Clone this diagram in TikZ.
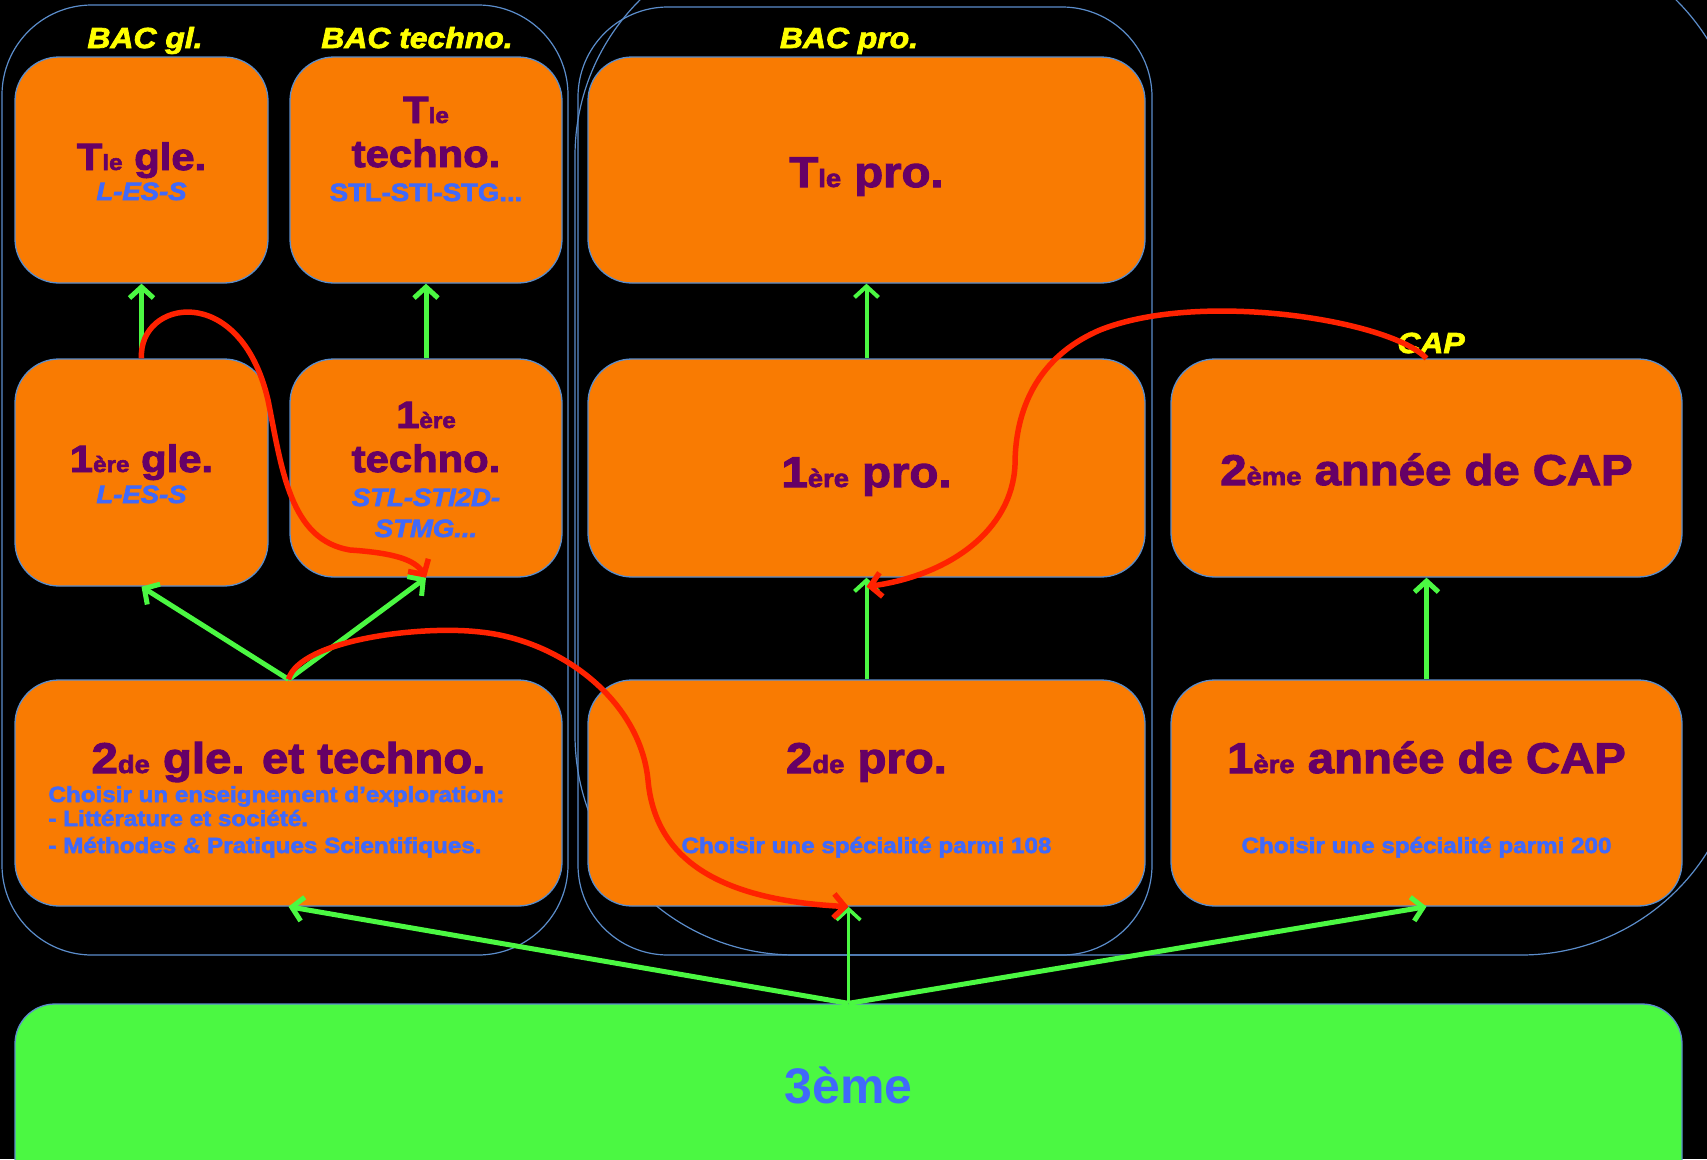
\documentclass[tikz,border=0pt]{standalone}
\usepackage{fontspec}
\setmainfont{Liberation Sans}
\newfontfamily\lourd{Liberation Sans}[FakeStretch=1.1,FakeBold=2.5]
\usepackage{graphicx}
\usepackage{tikz}
\usetikzlibrary{arrows.meta}
\definecolor{orangeb}{HTML}{F97B02}
\definecolor{violetb}{HTML}{660066}
\definecolor{bleub}{HTML}{4069FA}
\definecolor{jauneb}{HTML}{FFFF00}
\definecolor{vertb}{HTML}{4BF842}
\definecolor{rougeb}{HTML}{FF2200}
\definecolor{bordure}{HTML}{5B8DCB}
\tikzstyle{boite} = [draw=bordure,fill=orangeb,line width=1.3pt,rounded corners=44pt,inner sep=0pt]
\tikzstyle{groupe} = [draw=bordure,line width=1.2pt]
\tikzstyle{monte} = [draw=vertb,line width=5pt,->]
\tikzstyle{retour} = [draw=rougeb,line width=5.5pt,->]
\newcommand{\exps}[1]{\scalebox{0.58}{#1}}

\begin{document}
\begin{tikzpicture}[x=1pt,y=-1pt,>={Straight Barb[length=11pt,width=24pt]},
    bac/.style={text=jauneb,anchor=base,font=\lourd\bfseries\itshape\fontsize{29}{30}\selectfont},
    titre/.style={text=violetb,anchor=base,font=\lourd\bfseries\fontsize{38}{40}\selectfont},
    grand/.style={text=violetb,anchor=base,font=\lourd\bfseries\fontsize{43}{45}\selectfont},
    spec/.style={text=bleub,anchor=base,font=\lourd\bfseries\itshape\fontsize{25}{27}\selectfont},
    specd/.style={text=bleub,anchor=base,font=\lourd\bfseries\fontsize{25}{27}\selectfont},
    note/.style={text=bleub,anchor=base,font=\lourd\bfseries\fontsize{22}{24}\selectfont},
    trois/.style={text=bleub,anchor=base,font=\bfseries\fontsize{50}{52}\selectfont}]

    \fill[black] (0,0) rectangle (1707,1159);
    \useasboundingbox (0,0) rectangle (1707,1159);
    \clip (0,0) rectangle (1707,1159);

    \draw[groupe,rounded corners=90pt] (2,5) rectangle (568,955);
    \draw[groupe,rounded corners=220pt] (575,-64) rectangle (1741,955);
    \draw[groupe,rounded corners=90pt] (578,7) rectangle (1152,955);

    \node[boite,minimum width=253pt,minimum height=226pt] (TG) at (141.5,170) {};
    \node[boite,minimum width=272pt,minimum height=226pt] (TT) at (426,170) {};
    \node[boite,minimum width=557pt,minimum height=226pt] (TP) at (866.5,170) {};
    \node[boite,minimum width=253pt,minimum height=227pt] (PG) at (141.5,472.5) {};
    \node[boite,minimum width=272pt,minimum height=218pt] (PT) at (426,468) {};
    \node[boite,minimum width=557pt,minimum height=218pt] (PP) at (866.5,468) {};
    \node[boite,minimum width=511pt,minimum height=218pt] (C2) at (1426.5,468) {};
    \node[boite,minimum width=547pt,minimum height=226pt] (SG) at (288.5,793) {};
    \node[boite,minimum width=557pt,minimum height=226pt] (SP) at (866.5,793) {};
    \node[boite,minimum width=511pt,minimum height=226pt] (C1) at (1426.5,793) {};
    \node[boite,fill=vertb,rounded corners=40pt,minimum width=1667pt,minimum height=200pt] (E3) at (848.5,1104) {};

    \node[bac] (bgl) at (145,48) {BAC gl.};
    \node[bac] (btec) at (417,48) {BAC techno.};
    \node[bac] (bpro) at (849,48) {BAC pro.};
    \node[bac] (bcap) at (1431,353) {CAP};

    \node[titre] (tTG) at (141.5,170) {T\exps{le} gle.};
    \node[spec] (sTG) at (141.5,200) {L-ES-S};
    \node[titre] (tTT1) at (426,123) {T\exps{le}};
    \node[titre] (tTT2) at (426,167) {techno.};
    \node[specd] (sTT) at (426,201) {STL-STI-STG...};
    \node[grand] (tTP) at (866.5,187) {T\exps{le} pro.};

    \node[titre] (tPG) at (141.5,472) {1\exps{ère} gle.};
    \node[spec] (sPG) at (141.5,503) {L-ES-S};
    \node[titre] (tPT1) at (426,428) {1\exps{ère}};
    \node[titre] (tPT2) at (426,472) {techno.};
    \node[spec] (sPT1) at (426,506) {STL-STI2D-};
    \node[spec] (sPT2) at (426,537) {STMG...};
    \node[grand] (tPP) at (866.5,487) {1\exps{ère} pro.};
    \node[grand] (tC2) at (1426.5,485) {2\exps{ème} année de CAP};

    \node[grand] (tSG) at (288.5,773) {2\exps{de} gle. et techno.};
    \node[note,anchor=base west] (nSG1) at (45,802) {Choisir un enseignement d’exploration:};
    \node[note,anchor=base west] (nSG2) at (45,826) {- Littérature et société.};
    \node[note,anchor=base west] (nSG3) at (45,853) {- Méthodes \& Pratiques Scientifiques.};
    \node[grand] (tSP) at (866.5,773) {2\exps{de} pro.};
    \node[note] (nSP) at (866.5,853) {Choisir une spécialité parmi 108};
    \node[grand] (tC1) at (1426.5,773) {1\exps{ère} année de CAP};
    \node[note] (nC1) at (1426.5,853) {Choisir une spécialité parmi 200};
    \node[trois] (t3) at (848.5,1103) {3ème};

    \draw[monte] (PG.north) -- (TG.south);
    \draw[monte] (PT.north) -- (TT.south);
    \draw[monte,line width=4pt] (PP.north) -- (TP.south);
    \draw[monte] (SG.north) -- (PG.south);
    \draw[monte] (SG.north) -- (PT.south);
    \draw[monte,line width=4pt] (SP.north) -- (PP.south);
    \draw[monte] (C1.north) -- (C2.south);
    \draw[monte] (E3.north) -- (SG.south);
    \draw[monte,line width=3.5pt] (E3.north) -- (SP.south -| E3.north);
    \draw[monte] (E3.north) -- (C1.south);

    \draw[retour] (PG.north) .. controls (138,300) and (240,280) .. (268,400)
        .. controls (282,470) and (290,540) .. (350,550)
        .. controls (395,553) and (415,560) .. (PT.south);
    \draw[retour] (SG.north) .. controls (300,640) and (420,625) .. (480,632)
        .. controls (560,640) and (640,700) .. (648,780)
        .. controls (655,860) and (720,900) .. (SP.south -| E3.north);
    \draw[retour] (C2.north) .. controls (1390,320) and (1200,290) .. (1100,330)
        .. controls (1030,360) and (1015,420) .. (1015,465)
        .. controls (1012,530) and (950,575) .. ([yshift=-9pt]PP.south);

\end{tikzpicture}
\end{document}
